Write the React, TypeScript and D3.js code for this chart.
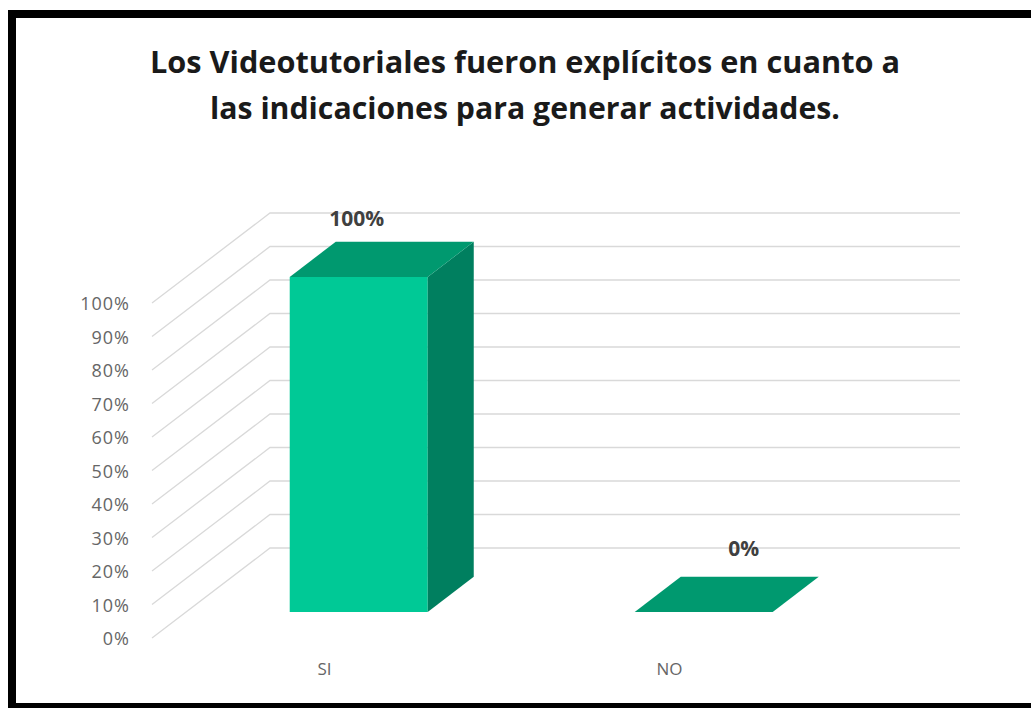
import React from "react";
import * as d3 from "d3";

const titleLines = [
  "Los Videotutoriales fueron explícitos en cuanto a",
  "las indicaciones para generar actividades.",
];
const categories = ["SI", "NO"];
const values = [1.0, 0.0];
const valueLabels = ["100%", "0%"];
const yTicks = [0, 0.1, 0.2, 0.3, 0.4, 0.5, 0.6, 0.7, 0.8, 0.9, 1.0];

const W = 1031;
const H = 708;

// oblique 3D projection
const origin = { x: 152, y: 638 }; // front-left floor corner
const depth = { dx: 118, dy: -90 }; // full depth offset
const plotRight = 842;
const t0 = 0.29; // bar front depth fraction
const t1 = 0.68; // bar back depth fraction

export default function App() {
  const x = d3.scaleBand<string>().domain(categories).range([origin.x, plotRight]);
  const yH = d3.scaleLinear().domain([0, 1]).range([0, 335]);
  const pct = d3.format(".0%");

  const proj = (px: number, v: number, t: number) => [
    px + depth.dx * t,
    origin.y - yH(v) + depth.dy * t,
  ];

  const barW = x.bandwidth() * 0.4;

  const grid = yTicks.map((v) => {
    const [fx, fy] = proj(origin.x, v, 0);
    const [bx, by] = proj(origin.x, v, 1);
    const [ex] = proj(plotRight, v, 1);
    return { v, d: `M${fx},${fy}L${bx},${by}L${ex},${by}`, fy };
  });

  const bars = categories.map((c, i) => {
    const v = values[i];
    const cx = (x(c) as number) + x.bandwidth() / 2;
    const l = cx - barW / 2;
    const r = cx + barW / 2;
    const fBL = proj(l, 0, t0);
    const fBR = proj(r, 0, t0);
    const fTL = proj(l, v, t0);
    const fTR = proj(r, v, t0);
    const bBR = proj(r, 0, t1);
    const bTL = proj(l, v, t1);
    const bTR = proj(r, v, t1);
    const pts = (a: number[][]) => a.map((p) => p.join(",")).join(" ");
    return {
      c,
      v,
      cx,
      front: pts([fBL, fBR, fTR, fTL]),
      side: pts([fBR, bBR, bTR, fTR]),
      top: pts([fTL, fTR, bTR, bTL]),
      frontCenterX: (fTL[0] + fTR[0]) / 2,
      backTopY: bTL[1],
    };
  });

  return (
    <svg
      width={W}
      height={H}
      style={{ position: "absolute", left: 0, top: 0, background: "#fff" }}
    >
      <rect x={0} y={0} width={W} height={H} fill="#fff" />
      {titleLines.map((t, i) => (
        <text
          key={i}
          x={525}
          y={73 + i * 46}
          textAnchor="middle"
          fontFamily="'Open Sans', sans-serif"
          fontWeight="bold"
          fontSize={30}
          fill="#1a1a1a"
          textLength={i === 0 ? 750 : 630}
          lengthAdjust="spacingAndGlyphs"
        >
          {t}
        </text>
      ))}
      {grid.map((g) => (
        <path key={g.v} d={g.d} fill="none" stroke="#d9d9d9" strokeWidth={1.3} />
      ))}
      {grid.map((g) => (
        <text
          key={"t" + g.v}
          x={130}
          y={g.fy + 7}
          textAnchor="end"
          fontFamily="'Open Sans', sans-serif"
          fontSize={18}
          letterSpacing={1}
          fill="#666"
        >
          {pct(g.v)}
        </text>
      ))}
      {bars.map((b) => (
        <g key={b.c}>
          {b.v > 0 && <polygon points={b.front} fill="#00C996" />}
          {b.v > 0 && <polygon points={b.side} fill="#007F5F" />}
          <polygon points={b.top} fill="#00996F" />
        </g>
      ))}
      {bars.map((b, i) => (
        <text
          key={"l" + b.c}
          x={b.frontCenterX + (b.v === 0 ? 40 : -2)}
          y={b.backTopY - (b.v === 0 ? 21 : 16)}
          textAnchor="middle"
          fontFamily="'Open Sans', sans-serif"
          fontWeight="bold"
          fontSize={21}
          fill="#404040"
        >
          {valueLabels[i]}
        </text>
      ))}
      {categories.map((c) => (
        <text
          key={"c" + c}
          x={(x(c) as number) + x.bandwidth() / 2}
          y={675}
          textAnchor="middle"
          fontFamily="'Open Sans', sans-serif"
          fontSize={17}
          fill="#666"
        >
          {c}
        </text>
      ))}
      <rect x={12} y={14} width={1040} height={693} fill="none" stroke="#000" strokeWidth={8} />
    </svg>
  );
}
